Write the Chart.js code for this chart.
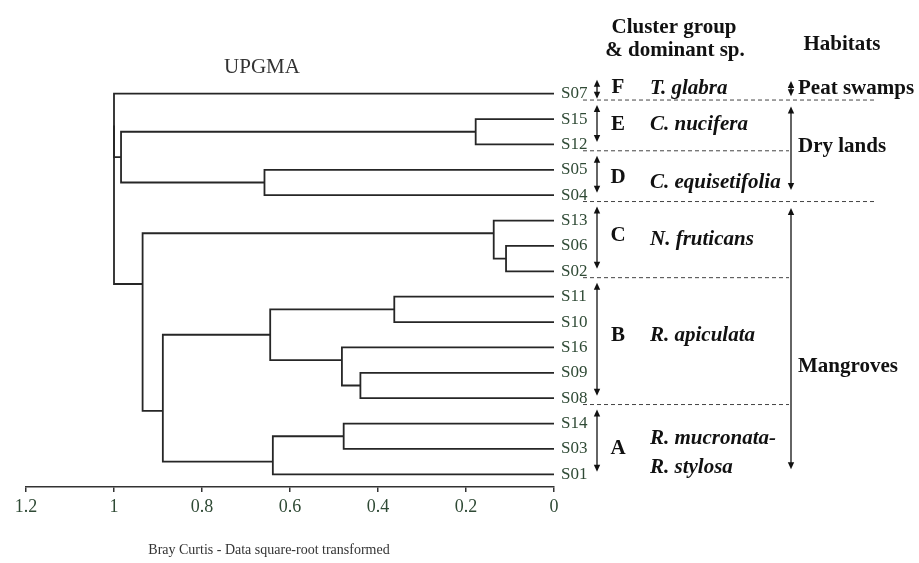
<!DOCTYPE html>
<html>
<head>
<meta charset="utf-8">
<script src="https://cdn.jsdelivr.net/npm/chart.js@4.4.0/dist/chart.umd.min.js"></script>
<style>
  html, body { margin: 0; padding: 0; background: #fff; }
  #wrap { width: 919px; height: 563px; }
</style>
</head>
<body>
<div id="wrap"><canvas id="dendro" width="919" height="563"></canvas></div>
<script>
// leaves, top to bottom
const leafNames = ['S07','S15','S12','S05','S04','S13','S06','S02','S11','S10','S16','S09','S08','S14','S03','S01'];

// merges: left child, right child, height (Bray Curtis), vertical position (leaf units)
const mergeLeft   = ['S15','S05','n0','S06','S13','S11','S09','S16','n5','S14','n9','n8','n4','S07','n13'];
const mergeRight  = ['S12','S04','n1','S02','n3','S10','S08','n6','n7','S03','S01','n10','n11','n2','n12'];
const mergeHeight = [0.178,0.658,0.984,0.109,0.137,0.363,0.440,0.482,0.645,0.478,0.639,0.889,0.935,1.0,1.0];
const mergePos    = [1.5,3.5,2.5,6.5,5.5,8.5,11.5,10.5,9.5,13.5,14.5,12.5,7.5,1.25,4];

const xTicks = [1.2, 1, 0.8, 0.6, 0.4, 0.2, 0];
const xTickLabels = ['1.2','1','0.8','0.6','0.4','0.2','0'];

// cluster groups
const groupLetters = ['F','E','D','C','B','A'];
const groupSpecies = [['T. glabra'],['C. nucifera'],['C. equisetifolia'],['N. fruticans'],['R. apiculata'],['R. mucronata-','R. stylosa']];
const groupFirst = [0,1,3,5,8,13];
const groupLast  = [0,2,4,7,12,15];
const groupTextPos = [-0.25, 1.2, 3.3, 5.6, 9.55, 14.0];
const speciesTextPos = [[-0.2], [1.2], [3.5], [5.75], [9.55], [13.6, 14.75]];

// habitats
const habitatNames = ['Peat swamps','Dry lands','Mangroves'];
const habitatFirst = [0,1,5];
const habitatLast  = [0,4,15];
const habitatTextPos = [-0.2, 2.1, 10.75];

const serif = '"Liberation Serif", "Times New Roman", serif';
const labelColor = '#2f4a35';
const lineColor = '#262626';

function nodeInfo(name) {
  if (name[0] === 'n') {
    const i = +name.slice(1);
    return { h: mergeHeight[i], y: mergePos[i] };
  }
  return { h: 0, y: leafNames.indexOf(name) };
}

const datasets = mergeHeight.map((h, i) => {
  const L = nodeInfo(mergeLeft[i]);
  const R = nodeInfo(mergeRight[i]);
  return {
    data: [{x: L.h, y: L.y}, {x: h, y: L.y}, {x: h, y: R.y}, {x: R.h, y: R.y}],
    borderColor: lineColor,
    borderWidth: 1.8,
    pointRadius: 0,
    tension: 0,
    fill: false,
    clip: false
  };
});

function vArrow(ctx, x, y1, y2) {
  const hw = 3.2, hl = 7;
  ctx.beginPath();
  ctx.moveTo(x, y1 + hl - 1);
  ctx.lineTo(x, y2 - hl + 1);
  ctx.stroke();
  ctx.beginPath();
  ctx.moveTo(x, y1); ctx.lineTo(x - hw, y1 + hl); ctx.lineTo(x + hw, y1 + hl); ctx.closePath();
  ctx.fill();
  ctx.beginPath();
  ctx.moveTo(x, y2); ctx.lineTo(x - hw, y2 - hl); ctx.lineTo(x + hw, y2 - hl); ctx.closePath();
  ctx.fill();
}

function dashed(ctx, x1, x2, y) {
  ctx.save();
  ctx.setLineDash([4, 3]);
  ctx.lineWidth = 1;
  ctx.strokeStyle = '#444';
  ctx.beginPath();
  ctx.moveTo(x1, y); ctx.lineTo(x2, y);
  ctx.stroke();
  ctx.restore();
}

const annotations = {
  id: 'annotations',
  afterDraw(chart) {
    const ctx = chart.ctx;
    const ys = chart.scales.y;
    const py = v => ys.getPixelForValue(v);
    ctx.save();
    ctx.fillStyle = '#111';
    ctx.strokeStyle = '#111';
    ctx.lineWidth = 1.3;

    // headers
    ctx.textAlign = 'center';
    ctx.textBaseline = 'middle';
    ctx.font = 'bold 21px ' + serif;
    ctx.fillText('Cluster group', 674, 28);
    ctx.fillText('& dominant sp.', 675, 51);
    ctx.fillText('Habitats', 842, 45);

    ctx.font = '21px ' + serif;
    ctx.fillStyle = '#333';
    ctx.fillText('UPGMA', 262, 67);
    ctx.font = '14px ' + serif;
    ctx.fillText('Bray Curtis - Data square-root transformed', 269, 550);

    ctx.fillStyle = '#111';
    // group arrows, letters, species
    groupLetters.forEach((g, i) => {
      const top = py(groupFirst[i] - 0.55);
      const bot = py(groupLast[i] - (i === 0 ? -0.2 : 0.1));
      vArrow(ctx, 597, top, bot);
      ctx.textAlign = 'center';
      ctx.font = 'bold 21px ' + serif;
      ctx.fillText(g, 618, py(groupTextPos[i]));
      ctx.textAlign = 'left';
      ctx.font = 'bold italic 21px ' + serif;
      groupSpecies[i].forEach((s, k) => ctx.fillText(s, 650, py(speciesTextPos[i][k])));
    });

    // separators between groups
    groupFirst.slice(1).forEach((f, i) => {
      const y = py(f - 0.75);
      const xEnd = (i === 0 || i === 2) ? 875 : 789;
      dashed(ctx, 583, xEnd, y);
    });

    // habitats
    habitatNames.forEach((h, i) => {
      const top = py(habitatFirst[i] - 0.5);
      const bot = py(habitatLast[i] + (i === 0 ? 0.1 : -0.2));
      vArrow(ctx, 791, top, bot);
      ctx.textAlign = 'left';
      ctx.font = 'bold 21px ' + serif;
      ctx.fillText(h, 798, py(habitatTextPos[i]));
    });
    ctx.restore();
  }
};

new Chart(document.getElementById('dendro'), {
  type: 'line',
  data: { datasets: datasets },
  plugins: [annotations],
  options: {
    responsive: false,
    animation: false,
    devicePixelRatio: 1,
    layout: { padding: { left: 26, right: 0, top: 81, bottom: 0 } },
    plugins: { legend: { display: false }, tooltip: { enabled: false } },
    scales: {
      x: {
        type: 'linear',
        reverse: true,
        min: 0,
        max: 1.2,
        afterBuildTicks: s => { s.ticks = xTicks.map(v => ({ value: v })); },
        afterFit: s => { s.height = 563 - 487; },
        ticks: {
          callback: (v, i) => xTickLabels[i],
          font: { family: serif, size: 18 },
          color: labelColor,
          padding: 4,
          maxRotation: 0,
          autoSkip: false
        },
        grid: { drawOnChartArea: false, drawTicks: true, tickLength: 5, color: '#333', lineWidth: 1.5 },
        border: { display: true, color: '#333', width: 1.5 }
      },
      y: {
        type: 'linear',
        position: 'right',
        reverse: true,
        min: -0.5,
        max: 15.5,
        afterBuildTicks: s => { s.ticks = leafNames.map((n, i) => ({ value: i })); },
        afterFit: s => { s.width = 919 - 554; },
        ticks: {
          callback: (v, i) => leafNames[i],
          font: { family: serif, size: 17 },
          color: labelColor,
          padding: 7,
          autoSkip: false
        },
        grid: { display: false, drawTicks: false },
        border: { display: false }
      }
    }
  }
});
</script>
</body>
</html>
